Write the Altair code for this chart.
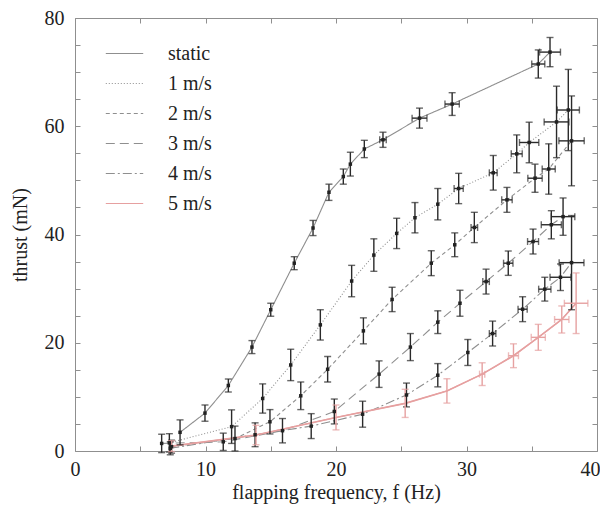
import altair as alt
import pandas as pd

# ---------------- data ----------------
series_names = ["static", "1 m/s", "2 m/s", "3 m/s", "4 m/s", "5 m/s"]

static_f = [8.05, 9.96, 11.75, 13.56, 15.0, 16.8, 18.24, 19.46, 20.56, 21.1, 22.17, 23.6, 26.4, 28.9, 35.5, 36.4]
static_T = [3.45, 7.0, 12.1, 19.2, 26.1, 34.7, 41.2, 47.8, 50.7, 53.0, 55.8, 57.5, 61.5, 64.1, 71.5, 73.7]
static_e = [2.3, 1.5, 1.2, 1.2, 1.2, 1.2, 1.4, 1.5, 1.4, 2.2, 1.6, 1.4, 1.85, 2.1, 2.6, 2.7]
static_xe = [0, 0, 0, 0, 0, 0, 0, 0, 0, 0, 0, 0.25, 0.57, 0.55, 0.5, 0.8]

v1_f = [7.23, 12.0, 14.38, 16.53, 18.8, 21.2, 22.9, 24.65, 26.05, 27.8, 29.4, 32.05, 33.85, 34.8, 36.9, 37.8]
v1_T = [1.5, 4.5, 9.7, 15.9, 23.3, 31.4, 36.2, 40.2, 43.1, 45.6, 48.5, 51.4, 54.9, 57.0, 60.8, 63.0]
v1_e = [1.7, 3.1, 2.7, 2.9, 2.8, 2.9, 3.0, 2.8, 2.8, 2.9, 2.8, 3.2, 3.5, 3.75, 6.6, 7.5]
v1_xe = [0, 0, 0, 0, 0, 0, 0, 0, 0, 0, 0.35, 0.3, 0.42, 0.74, 0.95, 0.85]

v2_f = [7.4, 12.26, 14.94, 17.3, 19.36, 22.1, 24.3, 27.3, 29.1, 30.6, 33.1, 35.25, 36.3, 38.05]
v2_T = [0.8, 2.3, 5.4, 10.2, 15.1, 22.2, 28.0, 34.7, 38.1, 41.3, 46.4, 50.4, 52.1, 57.3]
v2_e = [1.2, 2.3, 2.25, 2.55, 2.35, 2.4, 2.25, 2.3, 2.2, 2.8, 2.3, 2.6, 4.65, 8.3]
v2_xe = [0, 0, 0, 0, 0, 0, 0, 0, 0, 0.25, 0.4, 0.55, 0.5, 0.97]

v3_f = [6.64, 11.36, 15.9, 19.87, 23.3, 25.7, 27.8, 29.5, 31.5, 33.2, 35.1, 36.5, 37.4]
v3_T = [1.4, 1.7, 3.75, 7.3, 14.2, 19.2, 23.8, 27.3, 31.3, 34.7, 38.7, 41.8, 43.3]
v3_e = [1.7, 1.6, 2.25, 2.3, 2.45, 2.5, 2.1, 2.4, 2.3, 2.25, 2.3, 2.6, 3.45]
v3_xe = [0, 0, 0, 0, 0, 0, 0, 0, 0.25, 0.36, 0.42, 0.77, 0.9]

v4_f = [7.3, 13.8, 18.1, 22.04, 25.4, 27.8, 30.1, 32.0, 34.3, 36.0, 37.2, 38.05]
v4_T = [0.5, 3.0, 4.6, 6.8, 10.35, 14.0, 18.2, 21.7, 26.2, 29.9, 32.1, 34.8]
v4_e = [1.2, 2.2, 2.3, 2.4, 2.2, 2.15, 2.4, 2.3, 2.3, 2.2, 2.45, 8.7]
v4_xe = [0, 0, 0, 0, 0, 0, 0, 0.25, 0.35, 0.47, 0.8, 0.95]

v5_f = [7.4, 13.87, 20.0, 25.3, 28.5, 31.2, 33.6, 35.5, 37.3, 38.4]
v5_T = [0.9, 2.95, 6.2, 8.8, 11.1, 14.2, 17.6, 21.0, 24.3, 27.3]
v5_e = [1.0, 1.8, 2.3, 2.6, 2.25, 2.1, 2.2, 2.4, 2.5, 5.6]
v5_xe = [0, 0, 0, 0, 0, 0.2, 0.38, 0.54, 0.55, 0.9]

x_ticks = [0, 5, 10, 15, 20, 25, 30, 35, 40]
y_ticks = [0, 5, 10, 15, 20, 25, 30, 35, 40, 45, 50, 55, 60, 65, 70, 75, 80]

line_colors = ["#8f8f8f", "#8f8f8f", "#8f8f8f", "#8f8f8f", "#8f8f8f", "#e6a0a0"]
dashes = [[1, 0], [1, 2], [4, 3], [9, 5], [9, 3, 2, 3], [1, 0]]
BAR_DARK = "#2a2a2a"
BAR_RED = "#e6a0a0"

# ---------------- table ----------------
all_series = [
    (static_f, static_T, static_e, static_xe),
    (v1_f, v1_T, v1_e, v1_xe),
    (v2_f, v2_T, v2_e, v2_xe),
    (v3_f, v3_T, v3_e, v3_xe),
    (v4_f, v4_T, v4_e, v4_xe),
    (v5_f, v5_T, v5_e, v5_xe),
]
rows = []
for k, (fs, Ts, es, xes) in enumerate(all_series):
    for f, T, e, xe in zip(fs, Ts, es, xes):
        rows.append(dict(series=series_names[k], f=f, T=T, lo=T - e, hi=T + e,
                         xlo=f - xe, xhi=f + xe, xe=xe, red=(k == 5)))
df = pd.DataFrame(rows)

FONT = "Liberation Serif"
xscale = alt.Scale(domain=[0, 40], nice=False, zero=False)
yscale = alt.Scale(domain=[0, 80], nice=False)

x_axis = alt.Axis(values=x_ticks, labelExpr="datum.value % 10 == 0 ? datum.label : ''",
                  tickSize=5, offset=-5, domain=False, labelPadding=8,
                  labelOffset={"condition": {"test": "datum.value == 40", "value": -7}, "value": 0},
                  title="flapping frequency, f (Hz)", titlePadding=3)
y_axis = alt.Axis(values=y_ticks, labelExpr="datum.value % 20 == 0 ? datum.label : ''",
                  tickSize=5, offset=-5, domain=False, labelPadding=11,
                  title="thrust (mN)", titlePadding=14)

base = alt.Chart(df)

legend = alt.Legend(title=None, orient="none", legendX=30, legendY=16,
                    symbolType="stroke", symbolSize=1400, symbolStrokeWidth=1.2,
                    labelFont=FONT, labelFontSize=20, labelColor="#222",
                    rowPadding=0, labelOffset=24)

lines = base.mark_line(strokeWidth=1.1).encode(
    x=alt.X("f:Q", scale=xscale, axis=x_axis),
    y=alt.Y("T:Q", scale=yscale, axis=y_axis),
    color=alt.Color("series:N", scale=alt.Scale(domain=series_names, range=line_colors), legend=legend),
    strokeDash=alt.StrokeDash("series:N", scale=alt.Scale(domain=series_names, range=dashes), legend=legend),
)

red_line = base.transform_filter("datum.red").mark_line(strokeWidth=1.6, color=BAR_RED).encode(
    x=alt.X("f:Q", scale=xscale, axis=None),
    y=alt.Y("T:Q", scale=yscale, axis=None),
)

def vbars(filt, col):
    return base.transform_filter(filt).mark_errorbar(ticks={"size": 7}, thickness=1.4, color=col).encode(
        x=alt.X("f:Q", scale=xscale, axis=None),
        y=alt.Y("lo:Q", scale=yscale, axis=None),
        y2="hi:Q",
    )

def hbars(filt, col):
    return base.transform_filter(filt + " && datum.xe > 0").mark_errorbar(
        ticks={"size": 7}, thickness=1.4, color=col).encode(
        x=alt.X("xlo:Q", scale=xscale, axis=None),
        x2="xhi:Q",
        y=alt.Y("T:Q", scale=yscale, axis=None),
    )

points = base.transform_filter("!datum.red").mark_square(size=12, opacity=1, color="#222").encode(
    x=alt.X("f:Q", scale=xscale, axis=None),
    y=alt.Y("T:Q", scale=yscale, axis=None),
)

frame_axes = base.mark_point(opacity=0).encode(
    x=alt.X("f:Q", scale=xscale,
            axis=alt.Axis(orient="top", values=x_ticks, labels=False, title=None,
                          tickSize=5, offset=-5, domain=False)),
    y=alt.Y("T:Q", scale=yscale,
            axis=alt.Axis(orient="right", values=y_ticks, labels=False, title=None,
                          tickSize=5, offset=-5, domain=False)),
)

chart = alt.layer(
    lines, red_line,
    vbars("!datum.red", BAR_DARK), hbars("!datum.red", BAR_DARK),
    vbars("datum.red", BAR_RED), hbars("datum.red", BAR_RED),
    points, frame_axes,
).resolve_axis(x="independent", y="independent").properties(
    width=522, height=433,
    padding={"left": 67, "top": 10, "right": 3, "bottom": 55},
    autosize=alt.AutoSizeParams(type="none"),
).configure_view(
    stroke="#8f8f8f", strokeWidth=1
).configure_axis(
    grid=False, labelFont=FONT, titleFont=FONT, labelFontSize=20, titleFontSize=20,
    labelColor="#222", titleColor="#222", tickColor="#8f8f8f", titleFontWeight="normal",
    labelFlush=False,
)

chart.save("out.html", embed_options={"renderer": "svg", "actions": False})
